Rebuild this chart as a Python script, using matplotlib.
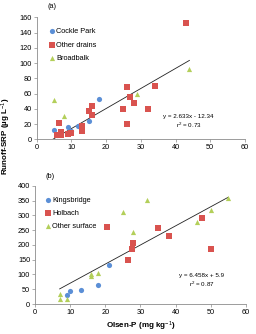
import matplotlib
matplotlib.use("Agg")
import matplotlib.pyplot as plt
import numpy as np

plt.rcParams['font.family'] = ['Liberation Sans', 'DejaVu Sans']
plt.rcParams['mathtext.fontset'] = 'custom'
plt.rcParams['mathtext.rm'] = 'Liberation Sans'
plt.rcParams['mathtext.it'] = 'Liberation Sans:italic'
plt.rcParams['mathtext.bf'] = 'Liberation Sans:bold'

# Panel (a)
cockle_x = [5, 6, 9, 10, 12, 15, 18]
cockle_y = [12, 5, 16, 11, 18, 24, 53]
drains_x = [6.5, 7, 7, 6, 9, 10, 13, 13, 15, 16, 16, 25, 26, 26, 27, 28, 32, 34, 43]
drains_y = [21, 10, 5, 6, 7, 8, 11, 17, 37, 44, 32, 40, 68, 20, 55, 47, 40, 70, 152]
broad_x = [5, 8, 29, 44]
broad_y = [51, 31, 60, 92]
fit_a = (2.633, -12.34)
fit_a_range = [4.7, 44]

# Panel (b)
kings_x = [9, 10, 13, 18, 21]
kings_y = [30, 44, 47, 64, 132]
holb_x = [20.5, 26.5, 27.5, 28, 35, 38, 47.5, 50]
holb_y = [262, 150, 185, 206, 256, 230, 291, 185]
other_x = [7, 7, 9, 16, 16, 18, 25, 28, 32, 46, 50, 55]
other_y = [33, 17, 17, 100, 95, 106, 310, 243, 351, 278, 318, 357]
fit_b = (6.458, 5.9)
fit_b_range = [7, 55]

blue = '#5b8fd6'
red = '#d9534f'
green = '#b3cf5a'
spine_c = '#8c8c8c'

fig = plt.figure(figsize=(2.56, 3.34), dpi=100)
axa = fig.add_axes([0.143, 0.583, 0.814, 0.365])
axb = fig.add_axes([0.137, 0.0898, 0.823, 0.354])

def style(ax, ymax, ystep):
    ax.set_xlim(0, 60)
    ax.set_ylim(0, ymax)
    ax.set_xticks(np.arange(0, 61, 10))
    ax.set_yticks(np.arange(0, ymax + 1, ystep))
    for s in ['top', 'right']:
        ax.spines[s].set_visible(False)
    for s in ['left', 'bottom']:
        ax.spines[s].set_color(spine_c)
        ax.spines[s].set_linewidth(0.6)
    ax.tick_params(axis='both', labelsize=5.3, length=2, width=0.5, color=spine_c, pad=1.5)

ms = 14
axa.scatter(cockle_x, cockle_y, s=ms, marker='o', color=blue, label='Cockle Park', zorder=3, linewidths=0)
axa.scatter(drains_x, drains_y, s=ms, marker='s', color=red, label='Other drains', zorder=3, linewidths=0)
axa.scatter(broad_x, broad_y, s=ms, marker='^', color=green, label='Broadbalk', zorder=3, linewidths=0)
xa = np.array(fit_a_range)
axa.plot(xa, fit_a[0] * xa + fit_a[1], color='#222222', lw=0.6, zorder=2)
style(axa, 160, 20)
axa.text(0.73, 0.19, 'y = 2.633x - 12.34', transform=axa.transAxes, fontsize=4.5, ha='center', va='center')
axa.text(0.73, 0.115, 'r$^2$ = 0.73', transform=axa.transAxes, fontsize=4.5, ha='center', va='center')
axa.text(0.05, 1.09, '(a)', transform=axa.transAxes, fontsize=5.3, ha='left', va='center')
axa.legend(loc='upper left', bbox_to_anchor=(0.04, 0.935), frameon=False, fontsize=5.3,
           handletextpad=0.1, labelspacing=0.85, handlelength=1.0, borderaxespad=0, markerscale=1)

axb.scatter(kings_x, kings_y, s=ms, marker='o', color=blue, label='Kingsbridge', zorder=3, linewidths=0)
axb.scatter(holb_x, holb_y, s=ms, marker='s', color=red, label='Holbach', zorder=3, linewidths=0)
axb.scatter(other_x, other_y, s=ms, marker='^', color=green, label='Other surface', zorder=3, linewidths=0)
xb = np.array(fit_b_range)
axb.plot(xb, fit_b[0] * xb + fit_b[1], color='#222222', lw=0.6, zorder=2)
style(axb, 400, 50)
axb.text(0.79, 0.24, 'y = 6.458x + 5.9', transform=axb.transAxes, fontsize=4.5, ha='center', va='center')
axb.text(0.79, 0.165, 'r$^2$ = 0.87', transform=axb.transAxes, fontsize=4.5, ha='center', va='center')
axb.text(0.05, 1.08, '(b)', transform=axb.transAxes, fontsize=5.3, ha='left', va='center')
axb.legend(loc='upper left', bbox_to_anchor=(0.03, 0.935), frameon=False, fontsize=5.3,
           handletextpad=0.1, labelspacing=0.85, handlelength=1.0, borderaxespad=0, markerscale=1)
axb.set_xlabel('Olsen-P (mg kg$^{-1}$)', fontsize=5.8, fontweight='bold', labelpad=3)

fig.text(0.025, 1 - 136 / 334, 'Runoff-SRP (µg L$^{-1}$)', rotation=90, fontsize=5.8,
         fontweight='bold', ha='center', va='center')

fig.savefig('out.png', dpi=100)
